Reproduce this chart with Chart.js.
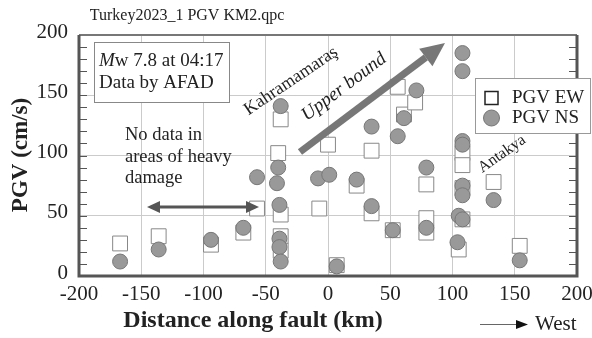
<!DOCTYPE html>
<html>
<head>
<meta charset="utf-8">
<script src="https://cdn.jsdelivr.net/npm/chart.js@4.4.0/dist/chart.umd.min.js"></script>
<style>
  body { margin: 0; background: #fff; }
  canvas { display: block; }
</style>
</head>
<body>
<canvas id="chart" width="592" height="338"></canvas>
<script>
// distance along fault (km) and PGV (cm/s)
const ewDist = [-167, -136, -94, -68, -57, -38, -40, -38, -38, -38, -7, 0, 7, 23, 35, 35, 52, 56, 61, 70, 79, 79, 79, 108, 108, 108, 108, 105, 133, 154]
const ewPgv = [27, 33, 26, 36, 56, 130, 102, 51, 33, 21, 56, 109, 9, 75, 104, 52, 38, 157, 134, 144, 76, 48, 36, 102, 92, 73, 47, 22, 78, 25]
const nsDist = [-167, -136, -94, -68, -57, -38, -40, -41, -39, -39, -39, -38, -8, 1, 7, 23, 35, 35, 52, 56, 61, 71, 79, 79, 108, 108, 108, 108, 108, 108, 105, 108, 104, 133, 154]
const nsPgv = [12, 22, 30, 40, 82, 141, 90, 77, 59, 31, 24, 12, 81, 84, 8, 80, 124, 58, 38, 116, 131, 154, 90, 40, 185, 170, 112, 109, 75, 67, 50, 47, 28, 63, 13]

const xTicks = [-200, -150, -100, -50, 0, 50, 100, 150, 200]
const yTicks = [0, 50, 100, 150, 200]

const serif = "'Liberation Serif', 'Times New Roman', serif"

const pairs = (xs, ys) => xs.map((x, i) => ({ x: x, y: ys[i] }))

function text(c, str, x, y, font, align, angle) {
  c.save()
  c.translate(x, y)
  if (angle) c.rotate(angle * Math.PI / 180)
  c.font = font
  c.textAlign = align || 'left'
  c.textBaseline = 'middle'
  c.fillStyle = '#222'
  c.fillText(str, 0, 0)
  c.restore()
}

function head(c, x1, y1, x2, y2, len, half) {
  const a = Math.atan2(y2 - y1, x2 - x1)
  const bx = x2 - len * Math.cos(a), by = y2 - len * Math.sin(a)
  c.beginPath()
  c.moveTo(x2, y2)
  c.lineTo(bx + half * Math.sin(a), by - half * Math.cos(a))
  c.lineTo(bx - half * Math.sin(a), by + half * Math.cos(a))
  c.closePath()
  c.fill()
  return [bx, by]
}

// frame, minor ticks, notes and legend
const decor = {
  id: 'decor',
  afterDraw(chart) {
    const c = chart.ctx
    const a = chart.chartArea
    const y = chart.scales.y

    c.save()
    // minor ticks every 10 on both sides
    c.strokeStyle = '#555'
    c.lineWidth = 1
    for (let v = 0; v <= 200; v += 10) {
      const py = Math.round(y.getPixelForValue(v)) + 0.5
      c.beginPath()
      c.moveTo(a.left, py); c.lineTo(a.left + 8, py)
      c.moveTo(a.right - 8, py); c.lineTo(a.right, py)
      c.stroke()
    }
    // frame
    c.strokeStyle = '#777'
    c.lineWidth = 2
    c.beginPath(); c.moveTo(a.left, a.top); c.lineTo(a.right, a.top); c.stroke()
    c.strokeStyle = '#555'
    c.lineWidth = 3
    c.beginPath()
    c.moveTo(a.left, a.top); c.lineTo(a.left, a.bottom); c.lineTo(a.right, a.bottom); c.lineTo(a.right, a.top)
    c.stroke()

    // upper bound arrow
    c.fillStyle = '#777'
    c.strokeStyle = '#777'
    let b = head(c, 300, 152, 445, 43, 24, 11)
    c.lineWidth = 7
    c.beginPath(); c.moveTo(300, 152); c.lineTo(b[0], b[1]); c.stroke()

    // no-data double arrow
    c.fillStyle = '#555'
    c.strokeStyle = '#555'
    const b1 = head(c, 200, 207, 147, 207, 13, 6)
    const b2 = head(c, 200, 207, 259, 207, 13, 6)
    c.lineWidth = 3
    c.beginPath(); c.moveTo(b1[0], 207); c.lineTo(b2[0], 207); c.stroke()

    // west arrow
    c.strokeStyle = '#666'
    c.lineWidth = 1
    c.beginPath(); c.moveTo(480, 324.5); c.lineTo(518, 324.5); c.stroke()
    c.fillStyle = '#111'
    head(c, 480, 324.5, 528, 324.5, 12, 4.5)
    text(c, 'West', 535, 324, '21px ' + serif)

    // titles
    text(c, 'Turkey2023_1 PGV KM2.qpc', 187, 16, '16px ' + serif, 'center')
    text(c, 'PGV (cm/s)', 21, 155, 'bold 23px ' + serif, 'center', -90)
    text(c, 'Distance along fault (km)', 253, 321, 'bold 24px ' + serif, 'center')

    // notes
    text(c, 'Kahramamaraş', 291, 81, '18px ' + serif, 'center', -34)
    text(c, 'Upper bound', 344, 87, 'italic 19px ' + serif, 'center', -37)
    text(c, 'Antakya', 502, 154, '16px ' + serif, 'center', -35)
    text(c, 'No data in', 125, 135, '18.5px ' + serif)
    text(c, 'areas of heavy', 125, 157, '18.5px ' + serif)
    text(c, 'damage', 125, 178, '18.5px ' + serif)

    // event box
    c.fillStyle = '#fff'
    c.strokeStyle = '#888'
    c.lineWidth = 1
    c.fillRect(94.5, 42.5, 135, 60)
    c.strokeRect(94.5, 42.5, 135, 60)
    c.font = 'italic 19px ' + serif
    const mw = c.measureText('M').width
    text(c, 'M', 99, 61, 'italic 19px ' + serif)
    text(c, 'w 7.8 at 04:17', 99 + mw, 61, '19px ' + serif)
    text(c, 'Data by AFAD', 99, 83, '19px ' + serif)

    // legend
    c.fillStyle = '#fff'
    c.strokeStyle = '#999'
    c.fillRect(475.5, 78.5, 115, 55)
    c.strokeRect(475.5, 78.5, 115, 55)
    c.strokeStyle = '#222'
    c.lineWidth = 1.5
    c.strokeRect(485, 91.5, 13, 13)
    c.fillStyle = '#999'
    c.strokeStyle = '#777'
    c.lineWidth = 1
    c.beginPath(); c.arc(491.5, 118, 8, 0, Math.PI * 2); c.fill(); c.stroke()
    text(c, 'PGV EW', 512, 98, '19px ' + serif)
    text(c, 'PGV NS', 512, 118, '19px ' + serif)
    c.restore()
  }
}

const chart = document.querySelector('#chart').getContext('2d')

new Chart(chart, {
  type: 'scatter',
  data: {
    datasets: [
      {
        label: 'PGV NS',
        data: pairs(nsDist, nsPgv),
        pointStyle: 'circle',
        pointRadius: 7.5,
        backgroundColor: '#999',
        borderColor: '#777',
        borderWidth: 1
      },
      {
        label: 'PGV EW',
        data: pairs(ewDist, ewPgv),
        pointStyle: 'rect',
        pointRadius: 10.5,
        backgroundColor: '#fff',
        borderColor: '#888',
        borderWidth: 1
      }
    ]
  },
  options: {
    responsive: false,
    animation: false,
    layout: { padding: { left: 0, right: 15, top: 35, bottom: 0 } },
    plugins: { legend: { display: false }, tooltip: { enabled: false } },
    scales: {
      x: {
        type: 'linear',
        min: -200,
        max: 200,
        afterBuildTicks: s => { s.ticks = xTicks.map(v => ({ value: v })) },
        afterFit: s => { s.height = 62; s.paddingLeft = 0; s.paddingRight = 0 },
        ticks: { font: { family: serif, size: 21 }, color: '#222', padding: 6, maxRotation: 0, autoSkip: false, callback: v => String(v) },
        grid: { color: '#cbcbcb', drawTicks: false },
        border: { display: false }
      },
      y: {
        type: 'linear',
        min: 0,
        max: 200,
        afterBuildTicks: s => { s.ticks = yTicks.map(v => ({ value: v })) },
        afterFit: s => { s.width = 79; s.paddingTop = 0; s.paddingBottom = 0 },
        ticks: { font: { family: serif, size: 21 }, color: '#222', padding: 11, labelOffset: -3, autoSkip: false, callback: v => String(v) },
        grid: { color: '#cbcbcb', drawTicks: false },
        border: { display: false }
      }
    }
  },
  plugins: [decor]
})
</script>
</body>
</html>
